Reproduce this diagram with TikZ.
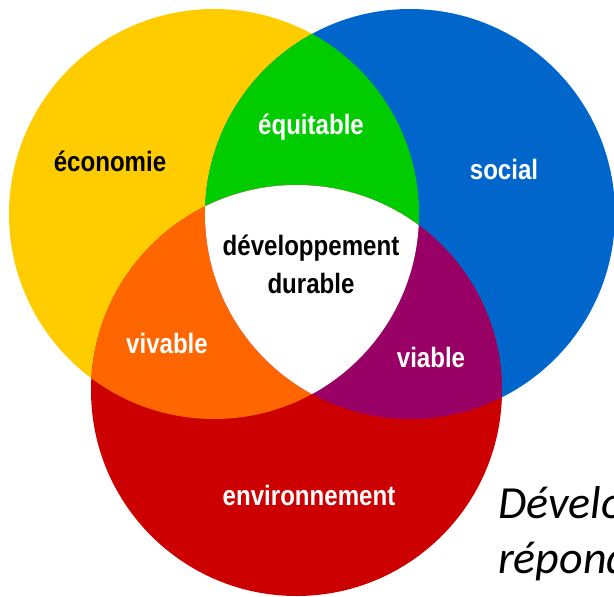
\documentclass[tikz,border=0pt]{standalone}
\usepackage{fontspec}
\newfontfamily\labfont[FakeStretch=0.86]{Liberation Sans}
\newfontfamily\carl{Carlito}
\definecolor{cyellow}{HTML}{FFCC00}
\definecolor{cblue}{HTML}{0066CC}
\definecolor{cgreen}{HTML}{00CC00}
\definecolor{corange}{HTML}{FF6600}
\definecolor{cred}{HTML}{CC0000}
\definecolor{cpurple}{HTML}{990066}
\tikzset{
  lab/.style={font=\labfont\bfseries\fontsize{28}{34}\selectfont, inner sep=0pt, anchor=base},
  blacklab/.style={lab, text=black},
  whitelab/.style={lab, text=white},
  note/.style={font=\carl\itshape\fontsize{46}{55}\selectfont, inner sep=0pt, anchor=base west, text=black}
}
\begin{document}
\begin{tikzpicture}[x=1pt,y=-1pt]
\useasboundingbox (0,0) rectangle (614,597);
\clip (0,0) rectangle (614,597);
\coordinate (Y) at (214,214);
\coordinate (B) at (410,214);
\coordinate (R) at (296.5,390.5);
\def\ry{205}\def\rb{205}\def\rr{205.5}
% base circles
\fill[cyellow] (Y) circle[radius=\ry];
\fill[cblue] (B) circle[radius=\rb];
\fill[cred] (R) circle[radius=\rr];
% pairwise intersections
\begin{scope}
  \clip (Y) circle[radius=\ry];
  \fill[cgreen] (B) circle[radius=\rb];
  \fill[corange] (R) circle[radius=\rr];
\end{scope}
\begin{scope}
  \clip (B) circle[radius=\rb];
  \fill[cpurple] (R) circle[radius=\rr];
\end{scope}
\begin{scope}
  \clip (Y) circle[radius=\ry];
  \clip (B) circle[radius=\rb];
  \fill[white] (R) circle[radius=\rr];
\end{scope}
% labels
\node[blacklab] (eco) at (110,171) {économie};
\node[whitelab] (equ) at (311,134) {équitable};
\node[whitelab] (soc) at (504,179) {social};
\node[blacklab] (dev) at (311,255) {développement};
\node[blacklab] (dur) at (311,293) {durable};
\node[whitelab] (viv) at (167,353) {vivable};
\node[whitelab] (via) at (431,367) {viable};
\node[whitelab] (env) at (309,505) {environnement};
% cut-off caption
\node[note] (cap1) at (498,518) {Développement};
\node[note] (cap2) at (498,573) {répond};
\end{tikzpicture}
\end{document}
